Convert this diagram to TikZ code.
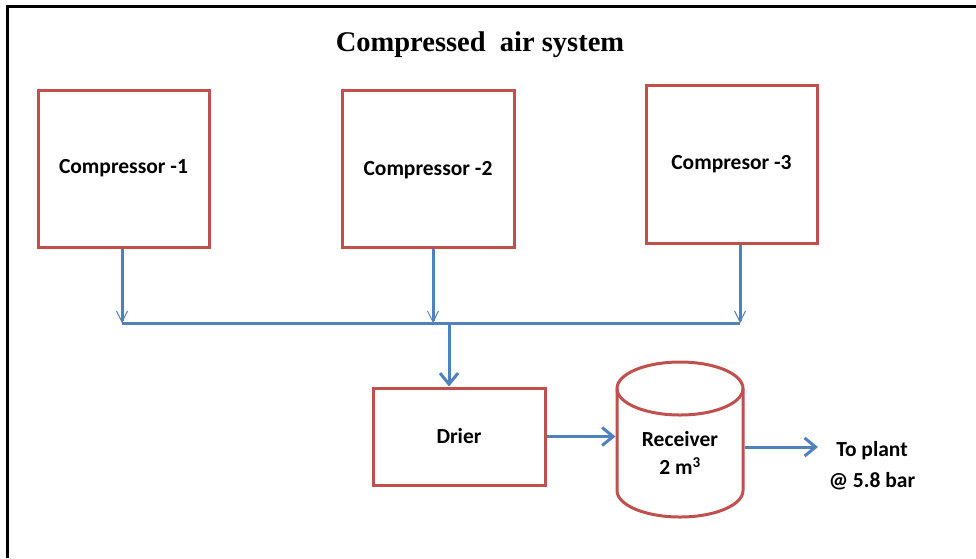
\documentclass[tikz,border=0pt]{standalone}
\usepackage{fontspec}
\setmainfont{Carlito}
\newfontfamily\titlefont{Liberation Serif}
\usetikzlibrary{arrows.meta}
\definecolor{boxred}{RGB}{192,80,77}
\definecolor{pipeblue}{RGB}{79,129,189}
\begin{document}
\begin{tikzpicture}[x=1pt,y=1pt,
  box/.style={draw=boxred, line width=3pt, align=center, font=\bfseries\fontsize{21.5}{24}\selectfont},
  lbl/.style={align=center, font=\bfseries\fontsize{21.5}{28}\selectfont},
  pipe/.style={draw=pipeblue, line width=3pt},
  bigtip/.style={-{Straight Barb[length=11pt,width=18pt]}},
  smalltip/.style={-{Straight Barb[length=11pt,width=11pt,line width=1pt]}}]
\useasboundingbox[fill=white] (0,0) rectangle (976,-558);
% frame
\draw[line width=3pt] (7,-558) -- (7,-6) -- (976,-6);
% title
\node[font=\titlefont\bfseries\fontsize{28.5}{32}\selectfont, anchor=base] (title) at (480,-51) {Compressed\ \ air system};
% compressors
\node[box, minimum width=171pt, minimum height=157pt] (c1) at (123.5,-168.5) {Compressor -1};
\node[box, minimum width=172pt, minimum height=157pt, text depth=1pt] (c2) at (428,-168.5) {Compressor -2};
\node[box, minimum width=171pt, minimum height=158pt] (c3) at (731.5,-164) {Compresor -3};
% drier
\node[box, minimum width=172pt, minimum height=97pt] (drier) at (459,-436.5) {Drier};
% receiver
\node[minimum width=126pt, minimum height=155pt, inner sep=0pt, outer sep=1.5pt] (rec) at (680,-439.5) {};
\draw[boxred, line width=3pt] (617,-388.5) -- (617,-490.5) arc[start angle=180, end angle=360, x radius=63, y radius=26.5] -- (743,-388.5);
\draw[boxred, line width=3pt] (680,-388.5) ellipse [x radius=63, y radius=26.5];
\node[lbl] (rectext) at (680,-453) {Receiver\\2 m\textsuperscript{3}};
% plant
\node[lbl, font=\bfseries\fontsize{21.5}{31}\selectfont] (plant) at (872,-466) {To plant\\@ 5.8 bar};
% junctions
\coordinate (j1) at (122,-323);
\coordinate (j2) at (433,-323);
\coordinate (j3) at (740,-323);
\coordinate (jd) at (449,-323);
\coordinate (out) at (818,-447);
% pipes
\draw[pipe, smalltip] (j1 |- c1.south) -- (j1);
\draw[pipe, smalltip] (j2 |- c2.south) -- (j2);
\draw[pipe, smalltip] (j3 |- c3.south) -- (j3);
\draw[pipe] (j1) -- (j3);
\draw[pipe, bigtip] (jd) -- (jd |- drier.north);
\draw[pipe, bigtip] (drier.east) -- (drier.east -| rec.west);
\draw[pipe, bigtip] (rec.east |- out) -- (out);
\end{tikzpicture}
\end{document}
